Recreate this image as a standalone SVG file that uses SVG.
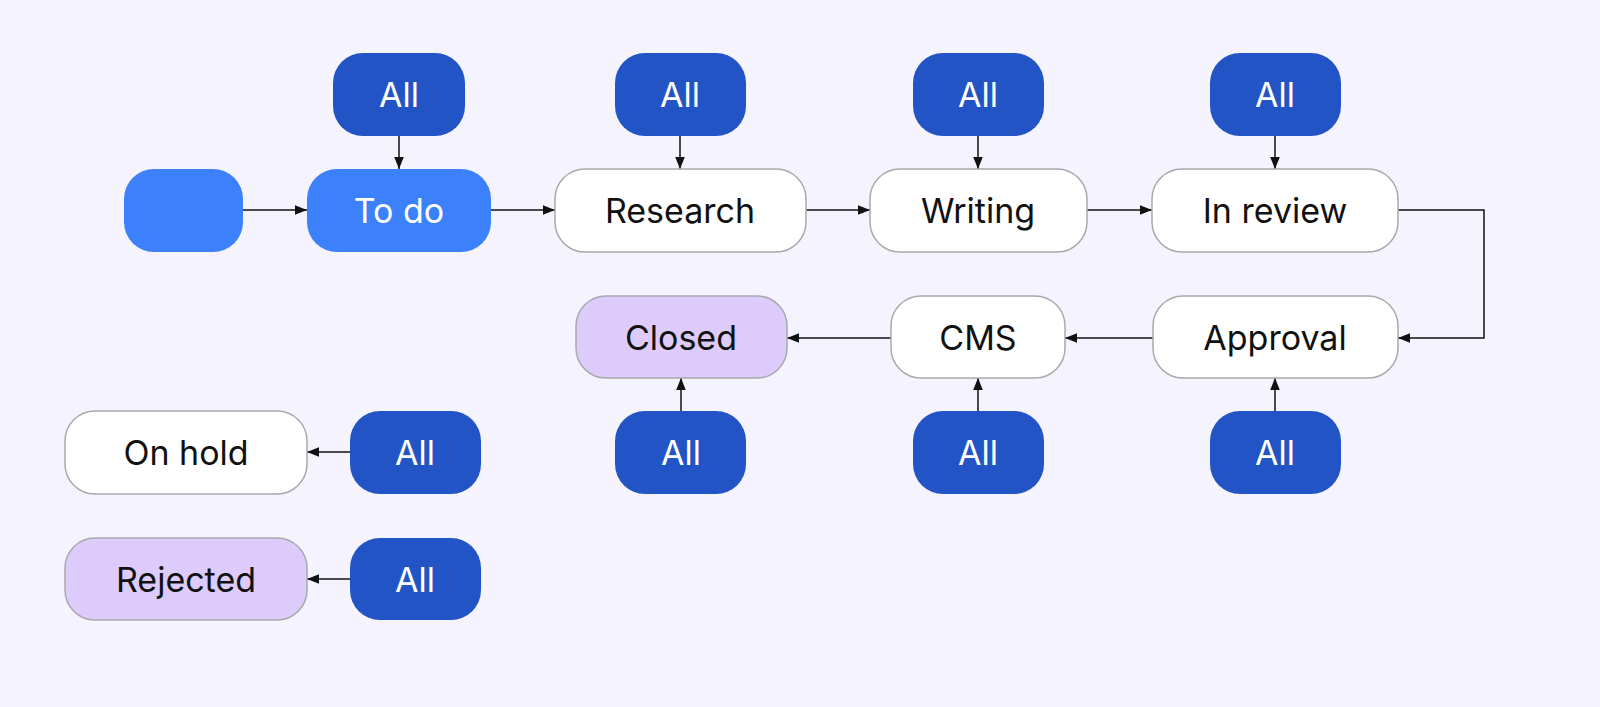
<svg xmlns="http://www.w3.org/2000/svg" width="1600" height="707" viewBox="0 0 1600 707">
<defs>
<marker id="ah" viewBox="0 0 10 10" refX="10" refY="5" markerWidth="8" markerHeight="8" orient="auto"><path d="M0,1 L10,5 L0,9 z" fill="#111"/></marker>
<style>
.n{fill:#fff;stroke:#a9a9ad;stroke-width:1.5}
.p{fill:#dccbfb;stroke:#a9a9ad;stroke-width:1.5}
.b{fill:#3d80fb}
.a{fill:#2254c6}
text{font-family:Inter,"Liberation Sans",sans-serif;font-size:34px;text-anchor:middle;dominant-baseline:central;fill:#111}
.w{fill:#fff}
.c path{fill:none;stroke:#111;stroke-width:1.5;marker-end:url(#ah)}
</style>
</defs>
<rect width="1600" height="707" fill="#f5f3fe"/>
<g class="c">
<path d="M399,136V169"/><path d="M680,136V169"/><path d="M978,136V169"/><path d="M1275,136V169"/>
<path d="M243,210H307"/><path d="M491,210H555"/><path d="M806,210H870"/><path d="M1087,210H1152"/>
<path d="M1398,210H1484V338H1398"/>
<path d="M1153,338H1065"/><path d="M891,338H787"/>
<path d="M681,411V378"/><path d="M978,411V378"/><path d="M1275,411V378"/>
<path d="M350,452H307"/><path d="M350,579H307"/>
</g>
<g id="start"><rect class="b" x="124" y="169" width="119" height="83" rx="30"/></g>
<g id="todo"><rect class="b" x="307" y="169" width="184" height="83" rx="30"/><text class="w" x="399" y="210">To do</text></g>
<g id="research"><rect class="n" x="555" y="169" width="251" height="83" rx="30"/><text x="680" y="210">Research</text></g>
<g id="writing"><rect class="n" x="870" y="169" width="217" height="83" rx="30"/><text x="978" y="210">Writing</text></g>
<g id="inreview"><rect class="n" x="1152" y="169" width="246" height="83" rx="30"/><text x="1275" y="210">In review</text></g>
<g id="approval"><rect class="n" x="1153" y="296" width="245" height="82" rx="30"/><text x="1275" y="337">Approval</text></g>
<g id="cms"><rect class="n" x="891" y="296" width="174" height="82" rx="30"/><text x="978" y="337">CMS</text></g>
<g id="closed"><rect class="p" x="576" y="296" width="211" height="82" rx="30"/><text x="681" y="337">Closed</text></g>
<g id="onhold"><rect class="n" x="65" y="411" width="242" height="83" rx="30"/><text x="186" y="452">On hold</text></g>
<g id="rejected"><rect class="p" x="65" y="538" width="242" height="82" rx="30"/><text x="186" y="579">Rejected</text></g>
<g id="all1"><rect class="a" x="333" y="53" width="132" height="83" rx="30"/><text class="w" x="399" y="94">All</text></g>
<g id="all2"><rect class="a" x="615" y="53" width="131" height="83" rx="30"/><text class="w" x="680" y="94">All</text></g>
<g id="all3"><rect class="a" x="913" y="53" width="131" height="83" rx="30"/><text class="w" x="978" y="94">All</text></g>
<g id="all4"><rect class="a" x="1210" y="53" width="131" height="83" rx="30"/><text class="w" x="1275" y="94">All</text></g>
<g id="all5"><rect class="a" x="615" y="411" width="131" height="83" rx="30"/><text class="w" x="681" y="452">All</text></g>
<g id="all6"><rect class="a" x="913" y="411" width="131" height="83" rx="30"/><text class="w" x="978" y="452">All</text></g>
<g id="all7"><rect class="a" x="1210" y="411" width="131" height="83" rx="30"/><text class="w" x="1275" y="452">All</text></g>
<g id="all8"><rect class="a" x="350" y="411" width="131" height="83" rx="30"/><text class="w" x="415" y="452">All</text></g>
<g id="all9"><rect class="a" x="350" y="538" width="131" height="82" rx="30"/><text class="w" x="415" y="579">All</text></g>
</svg>
